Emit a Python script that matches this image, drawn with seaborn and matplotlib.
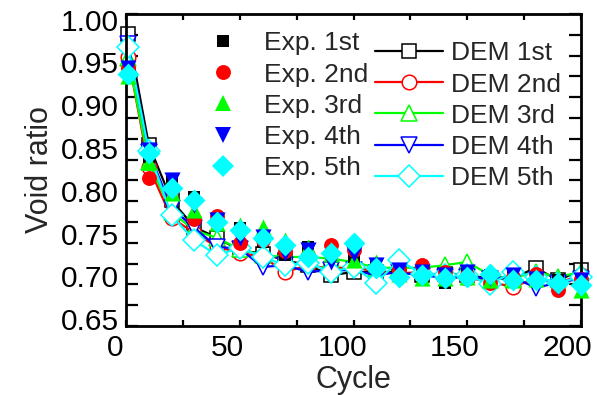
import numpy as np
import pandas as pd
import matplotlib
matplotlib.use("Agg")
import matplotlib.pyplot as plt
from matplotlib.ticker import MultipleLocator
from matplotlib.lines import Line2D
from matplotlib.transforms import ScaledTranslation
import seaborn as sns

# Cycle numbers at which the void ratio was recorded
cycles = [1, 10, 20, 30, 40, 50, 60, 70, 80, 90, 100,
          110, 120, 130, 140, 150, 160, 170, 180, 190, 200]

# Experimental void ratios (five repeated tests)
exp_1st = [0.930, 0.828, 0.798, 0.780, 0.755, 0.743, 0.726, 0.710, 0.720, 0.712, 0.708,
           0.697, 0.693, 0.690, 0.677, 0.688, 0.686, 0.684, 0.684, 0.680, 0.682]
exp_2nd = [0.935, 0.803, 0.790, 0.754, 0.757, 0.725, 0.728, 0.715, 0.710, 0.722, 0.716,
           0.695, 0.692, 0.698, 0.690, 0.686, 0.677, 0.684, 0.688, 0.668, 0.682]
exp_3rd = [0.925, 0.822, 0.785, 0.764, 0.749, 0.746, 0.744, 0.728, 0.720, 0.712, 0.704,
           0.702, 0.688, 0.683, 0.683, 0.684, 0.680, 0.680, 0.682, 0.682, 0.668]
exp_4th = [0.935, 0.836, 0.800, 0.770, 0.752, 0.731, 0.732, 0.713, 0.716, 0.702, 0.712,
           0.698, 0.692, 0.690, 0.686, 0.690, 0.683, 0.686, 0.682, 0.672, 0.680]
exp_5th = [0.928, 0.833, 0.791, 0.776, 0.750, 0.740, 0.731, 0.722, 0.708, 0.713, 0.725,
           0.695, 0.684, 0.686, 0.683, 0.684, 0.687, 0.680, 0.680, 0.677, 0.674]

# DEM simulated void ratios
dem_1st = [0.976, 0.843, 0.776, 0.744, 0.731, 0.716, 0.712, 0.704, 0.698, 0.686, 0.690,
           0.690, 0.690, 0.686, 0.688, 0.686, 0.682, 0.682, 0.695, 0.680, 0.692]
dem_2nd = [0.948, 0.816, 0.755, 0.737, 0.720, 0.713, 0.708, 0.690, 0.698, 0.694, 0.696,
           0.690, 0.688, 0.690, 0.683, 0.683, 0.678, 0.672, 0.682, 0.677, 0.686]
dem_3rd = [0.947, 0.822, 0.762, 0.740, 0.731, 0.717, 0.710, 0.708, 0.708, 0.706, 0.702,
           0.695, 0.695, 0.695, 0.698, 0.702, 0.686, 0.682, 0.690, 0.684, 0.690]
dem_4th = [0.964, 0.834, 0.767, 0.743, 0.720, 0.718, 0.696, 0.698, 0.690, 0.692, 0.692,
           0.686, 0.690, 0.685, 0.684, 0.684, 0.682, 0.684, 0.671, 0.677, 0.682]
dem_5th = [0.960, 0.835, 0.758, 0.728, 0.710, 0.719, 0.708, 0.698, 0.701, 0.690, 0.696,
           0.677, 0.704, 0.688, 0.686, 0.686, 0.675, 0.690, 0.684, 0.677, 0.684]

exp_labels = ["Exp. 1st", "Exp. 2nd", "Exp. 3rd", "Exp. 4th", "Exp. 5th"]
dem_labels = ["DEM 1st", "DEM 2nd", "DEM 3rd", "DEM 4th", "DEM 5th"]
x_ticks = [0, 50, 100, 150, 200]
y_ticks = [0.65, 0.70, 0.75, 0.80, 0.85, 0.90, 0.95, 1.00]

colors = ["#000000", "#ff0000", "#00ff00", "#0000ff", "#00ffff"]
markers = ["s", "o", "^", "v", "D"]
exp_sizes = [80, 115, 135, 135, 125]
dem_msize = [10, 10.5, 11, 11, 11]

# small nudges (pixels) applied to tick labels
x_label_shift = [-11, -12, -11, -13, -14]
y_label_shift = [-14, -12.5, -12, -10.5, -9, -8, -6.5, -6]

sns.set_style("ticks")
plt.rcParams["font.family"] = ["Liberation Sans", "DejaVu Sans"]

fig = plt.figure(figsize=(5.97, 3.95), dpi=100)
ax = fig.add_axes([126 / 597, 1 - 326 / 395, 455 / 597, 312 / 395])

exp_series = [exp_1st, exp_2nd, exp_3rd, exp_4th, exp_5th]
dem_series = [dem_1st, dem_2nd, dem_3rd, dem_4th, dem_5th]

dem_handles = []
for vals, lab, c, m, ms in zip(dem_series, dem_labels, colors, markers, dem_msize):
    df = pd.DataFrame({"Cycle": cycles, "Void ratio": vals})
    sns.lineplot(data=df, x="Cycle", y="Void ratio", ax=ax, color=c, lw=1.6,
                 marker=m, markersize=ms, markerfacecolor="white",
                 markeredgecolor=c, markeredgewidth=1.1, zorder=2,
                 legend=False, clip_on=False)
    dem_handles.append(Line2D([], [], color=c, lw=1.6, marker=m, markersize=ms,
                              markerfacecolor="white", markeredgecolor=c,
                              markeredgewidth=1.1))

exp_handles = []
for vals, lab, c, m, s in zip(exp_series, exp_labels, colors, markers, exp_sizes):
    df = pd.DataFrame({"Cycle": cycles, "Void ratio": vals})
    sns.scatterplot(data=df, x="Cycle", y="Void ratio", ax=ax, color=c, marker=m,
                    s=s, linewidth=0, zorder=3, legend=False, clip_on=False)
    exp_handles.append(Line2D([], [], ls="none", color=c, marker=m,
                              markersize=np.sqrt(s), markeredgewidth=0))

ax.set_xlim(0, 200)
ax.set_ylim(0.625, 1.00)
ax.set_xticks(x_ticks)
ax.set_yticks(y_ticks)
ax.xaxis.set_minor_locator(MultipleLocator(25))
ax.yaxis.set_minor_locator(MultipleLocator(0.025))
ax.set_yticklabels([f"{v:.2f}" for v in y_ticks])

for side in ["left", "right", "top", "bottom"]:
    ax.spines[side].set_visible(True)
    ax.spines[side].set_linewidth(2)
    ax.spines[side].set_color("black")

ax.tick_params(axis="both", which="both", direction="in", width=1.6,
               top=True, right=True, colors="black", labelsize=21.5)
ax.tick_params(axis="x", which="both", length=4.5, pad=6)
ax.tick_params(axis="y", which="both", length=8.5, pad=5)

for lbl, dx in zip(ax.get_xticklabels(), x_label_shift):
    lbl.set_transform(lbl.get_transform() + ScaledTranslation(dx / 100, 0, fig.dpi_scale_trans))
for lbl, dy in zip(ax.get_yticklabels(), y_label_shift):
    lbl.set_transform(lbl.get_transform() + ScaledTranslation(0, dy / 100, fig.dpi_scale_trans))

ax.set_xlabel("Cycle", fontsize=22, labelpad=2)
ax.set_ylabel("Void ratio", fontsize=22, labelpad=4)

leg1 = ax.legend(exp_handles, exp_labels, loc="upper left",
                 bbox_to_anchor=(0.185, 0.944), frameon=False, fontsize=19,
                 handlelength=1.0, handletextpad=1.05, labelspacing=0.27,
                 borderpad=0, borderaxespad=0)
ax.add_artist(leg1)
ax.legend(dem_handles, dem_labels, loc="upper left",
          bbox_to_anchor=(0.547, 0.912), frameon=False, fontsize=19,
          handlelength=2.6, handletextpad=0.3, labelspacing=0.27,
          borderpad=0, borderaxespad=0)

fig.savefig("out.png", dpi=100)
